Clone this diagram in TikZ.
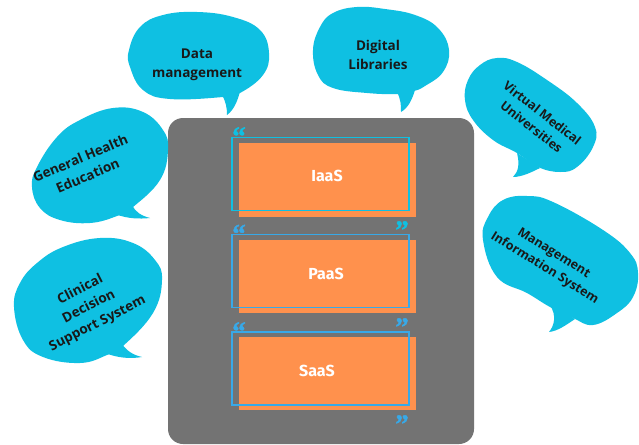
\documentclass[tikz,border=0pt]{standalone}
\usepackage{fontspec}
\setmainfont{Open Sans}
\newfontfamily\labelfont{Fira Sans}
\newfontfamily\quotefont[FakeBold=1.5]{Liberation Serif}
\definecolor{bubblecyan}{HTML}{0FC0E2}
\definecolor{panelgray}{HTML}{737373}
\definecolor{boxorange}{HTML}{FF914D}
\definecolor{frameblue}{HTML}{38A9E8}
\tikzset{
  x=1pt,y=-1pt,
  bubble/.style={fill=bubblecyan,draw=none},
  bubbletext/.style={font=\bfseries\fontsize{13.5}{19}\selectfont,text=black!90,align=center,inner sep=0pt},
  smallbubbletext/.style={font=\bfseries\fontsize{12.5}{17.5}\selectfont,text=black!90,align=center,inner sep=0pt},
  orangebox/.style={fill=boxorange,draw=none},
  framebox/.style={draw=#1,line width=1.5pt,fill=none},
  layerlabel/.style={font=\labelfont\bfseries\fontsize{16}{18}\selectfont,text=white,inner sep=0pt},
  quotemark/.style={font=\quotefont\bfseries\fontsize{27}{27}\selectfont,text=#1,inner sep=0pt,anchor=north,text height=14pt,text depth=0pt},
}
\begin{document}
\begin{tikzpicture}
\useasboundingbox (0,0) rectangle (639,444);
\fill[white] (0,0) rectangle (639,444);
% panel
\fill[panelgray,rounded corners=15pt] (168,118) rectangle (474,444);
% boxes
\fill[orangebox] (239,143) rectangle (416,217);
\fill[orangebox] (239,240) rectangle (416,313);
\fill[orangebox] (239,337) rectangle (416,410);
\draw[framebox=bubblecyan] (232,137.5) rectangle (409,210.5);
\draw[framebox=frameblue] (232,234.5) rectangle (409,307.5);
\draw[framebox=frameblue] (232,332) rectangle (409,405);
\node[layerlabel] (iaas) at (327,176) {IaaS};
\node[layerlabel] (paas) at (326,274) {PaaS};
\node[layerlabel] (saas) at (317,371) {SaaS};
% quote marks
\node[quotemark=bubblecyan] (q1) at (239,131) {“};
\node[quotemark=frameblue] (q2) at (239,228.5) {“};
\node[quotemark=frameblue] (q3) at (239,326) {“};
\node[quotemark=bubblecyan] (q4) at (402,225) {”};
\node[quotemark=frameblue] (q5) at (402,322) {”};
\node[quotemark=frameblue] (q6) at (402,419) {”};
% bubbles
\fill[bubble] plot[smooth cycle,tension=0.7] coordinates {(129,50)(140,27)(163,15)(197,12)(233,17)(260,30)(269,53)(263,75)(240,93)(223,97)(170,99)(143,90)(130,67)};
\fill[bubble] (240,91) .. controls (238,100) and (234,110) .. (227,115) .. controls (227,108) and (226,102) .. (222,95) -- cycle;
\fill[bubble] plot[smooth cycle,tension=0.7] coordinates {(313,50)(320,27)(333,13)(357,7)(385,9)(415,15)(438,28)(449,50)(443,72)(425,86)(414,91)(398,94)(367,93)(333,88)(318,75)};
\fill[bubble] (415,90) .. controls (412,100) and (408,108) .. (401,112) .. controls (401,105) and (401,100) .. (397,92) -- cycle;
\fill[bubble] plot[smooth cycle,tension=0.7] coordinates {(32,187)(37,167)(57,137)(80,120)(113,108)(143,112)(163,130)(168,150)(160,180)(133,207)(117,216)(90,223)(60,220)(40,208)};
\fill[bubble] (132,205) .. controls (135,212) and (142,216) .. (150,218) .. controls (140,219) and (128,219) .. (115,214) -- cycle;
\fill[bubble] plot[smooth cycle,tension=0.7] coordinates {(14,307)(20,283)(37,263)(63,247)(100,238)(133,243)(155,260)(162,280)(153,313)(123,346)(107,355)(80,363)(43,357)(23,340)};
\fill[bubble] (122,344) .. controls (127,351) and (133,355) .. (142,357) .. controls (130,359) and (118,358) .. (105,353) -- cycle;
\fill[bubble] plot[smooth cycle,tension=0.7] coordinates {(465,100)(468,80)(480,65)(497,58)(517,62)(547,80)(577,103)(595,127)(593,147)(577,167)(560,172)(538,167)(517,153)(493,140)(473,120)};
\fill[bubble] (540,168) .. controls (532,172) and (522,177) .. (513,177) .. controls (518,172) and (520,165) .. (517,153) -- cycle;
\fill[bubble] plot[smooth cycle,tension=0.7] coordinates {(483,240)(488,217)(503,200)(527,196)(553,202)(603,230)(630,253)(638,273)(633,297)(617,313)(593,325)(573,318)(550,307)(527,293)(497,277)};
\fill[bubble] (575,319) .. controls (566,325) and (558,331) .. (549,332) .. controls (554,326) and (557,316) .. (550,305) -- cycle;
% texts
\node[bubbletext] (data) at (197,65) {Data\\management};
\node[bubbletext] (digital) at (378,54.5) {Digital\\Libraries};
\node[bubbletext,rotate=23] (health) at (84,167) {General Health\\Education};
\node[bubbletext,rotate=27] (clinical) at (89,307) {Clinical\\Decision\\Support System};
\node[smallbubbletext,rotate=-38] (virtual) at (537,120) {Virtual Medical\\Universities};
\node[smallbubbletext,rotate=-32] (mis) at (549,261) {Management\\Information System};
\end{tikzpicture}
\end{document}
